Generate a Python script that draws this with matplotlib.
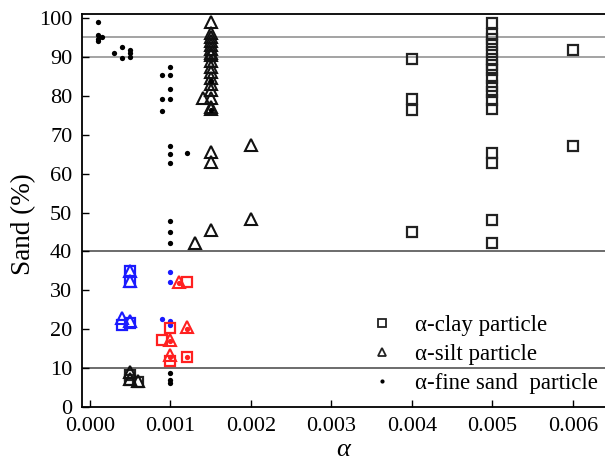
import numpy as np
from matplotlib import pyplot as plt
from matplotlib.ticker import FormatStrFormatter

plt.rcParams['font.family'] = ['Liberation Serif', 'DejaVu Serif']

# alpha-clay particle (black squares)
clay_x = [0.004, 0.004, 0.004, 0.004,
          0.005, 0.005, 0.005, 0.005, 0.005, 0.005, 0.005, 0.005, 0.005,
          0.005, 0.005, 0.005, 0.005, 0.005, 0.005, 0.005, 0.005,
          0.006, 0.006,
          0.0005, 0.0005, 0.0006]
clay_y = [89.5, 79.2, 76.4, 45.1,
          98.8, 95.8, 94.5, 93.0, 91.2, 89.5, 88.0, 86.5, 84.5,
          82.5, 81.0, 79.0, 76.5, 65.3, 62.7, 48.1, 42.1,
          91.8, 67.1,
          8.4, 7.0, 6.5]

# alpha-silt particle (black triangles)
silt_x = [0.0015] * 20 + [0.0014, 0.0013, 0.002, 0.002, 0.0005, 0.0005, 0.0006]
silt_y = [99.0, 96.0, 95.0, 94.0, 93.0, 92.0, 91.0, 90.5, 89.0, 87.5,
          86.0, 84.5, 83.0, 81.5, 79.5, 77.0, 76.5, 65.5, 63.0, 45.5,
          79.5, 42.3, 67.4, 48.4, 9.0, 7.3, 6.8]

# alpha-fine sand particle (black dots)
sand_x = [0.0001, 0.0001, 0.0001, 0.00015, 0.0001,
          0.0003, 0.0004, 0.0004, 0.0005, 0.0005, 0.0005,
          0.0009, 0.001, 0.001, 0.001, 0.0009, 0.001, 0.0009,
          0.001, 0.001, 0.001, 0.0012,
          0.0015, 0.0015,
          0.001, 0.001, 0.001,
          0.001, 0.001, 0.001]
sand_y = [98.9, 95.5, 94.5, 95.0, 94.0,
          91.1, 92.4, 89.7, 91.8, 91.0, 89.9,
          85.4, 87.4, 85.4, 81.7, 79.2, 79.2, 76.2,
          67.2, 65.0, 62.7, 65.3,
          83.9, 76.4,
          47.9, 45.0, 42.1,
          8.7, 7.0, 6.1]

# blue group
blue_sq_x = [0.0005, 0.0005, 0.0004, 0.0005]
blue_sq_y = [35.0, 32.1, 21.0, 21.6]
blue_tri_x = [0.0005, 0.0005, 0.0004, 0.0005]
blue_tri_y = [35.0, 32.5, 22.8, 22.2]
blue_dot_x = [0.001, 0.001, 0.0009, 0.001, 0.001]
blue_dot_y = [34.8, 32.1, 22.6, 22.2, 21.1]

# red group
red_sq_x = [0.0012, 0.001, 0.0009, 0.001, 0.0012]
red_sq_y = [32.1, 20.4, 17.3, 12.0, 13.0]
red_tri_x = [0.0011, 0.0012, 0.001, 0.001]
red_tri_y = [32.1, 20.6, 17.3, 13.3]
red_dot_x = [0.0012, 0.0011, 0.0012, 0.001, 0.001]
red_dot_y = [13.0, 31.8, 20.2, 17.0, 12.8]

hlines = [95, 90, 40, 10]
hline_colors = ['#8a8a8a', '#8a8a8a', '#444444', '#444444']

fig = plt.figure(figsize=(6.05, 4.67), dpi=100)
ax = fig.add_axes([0.1355, 0.128, 0.8645, 0.842])

for yv, c in zip(hlines, hline_colors):
    ax.axhline(yv, color=c, lw=1.1, zorder=1)

sq = dict(marker='s', ls='none', ms=7.5, mfc='none', mew=1.6)
tri = dict(marker='^', ls='none', ms=8.5, mfc='none', mew=1.5)
dot = dict(marker='o', ls='none', ms=3.8, mew=0)

ax.plot(clay_x, clay_y, color='#222222', **sq)
ax.plot(silt_x, silt_y, color='#111111', **tri)
ax.plot(sand_x, sand_y, color='black', **dot)

ax.plot(blue_sq_x, blue_sq_y, color='#1a1aff', **sq)
ax.plot(blue_tri_x, blue_tri_y, color='#1a1aff', **tri)
ax.plot(blue_dot_x, blue_dot_y, color='#1a1aff', **dot)

ax.plot(red_sq_x, red_sq_y, color='#ff2020', **sq)
ax.plot(red_tri_x, red_tri_y, color='#ff2020', **tri)
ax.plot(red_dot_x, red_dot_y, color='#ff2020', **dot)

# legend handles
h1, = ax.plot([], [], marker='s', ls='none', ms=5.5, mfc='none', mew=1.3, color='#222222')
h2, = ax.plot([], [], marker='^', ls='none', ms=5.5, mfc='none', mew=1.3, color='#222222')
h3, = ax.plot([], [], marker='o', ls='none', ms=3.0, mew=0, color='black')
ax.legend([h1, h2, h3], ['α-clay particle', 'α-silt particle', 'α-fine sand  particle'],
          loc='upper left', bbox_to_anchor=(0.538, 0.259), frameon=False,
          fontsize=16.5, handlelength=0.8, handletextpad=1.06, labelspacing=0.35,
          borderaxespad=0)

ax.set_xlim(-0.0001, 0.0064)
ax.set_ylim(0, 101)
ax.set_xticks(np.arange(0, 0.0061, 0.001))
ax.set_yticks(np.arange(0, 101, 10))
ax.xaxis.set_major_formatter(FormatStrFormatter('%.3f'))
ax.tick_params(direction='in', length=5, width=1, labelsize=16, pad=7)
ax.spines['right'].set_visible(False)
for s in ['left', 'bottom', 'top']:
    ax.spines[s].set_linewidth(1.3)

ax.set_xlabel('α', fontsize=19, style='italic', labelpad=2)
ax.set_ylabel('Sand (%)', fontsize=19.5)
ax.yaxis.set_label_coords(-0.088, 0.465)

fig.savefig('out.png', dpi=100)
